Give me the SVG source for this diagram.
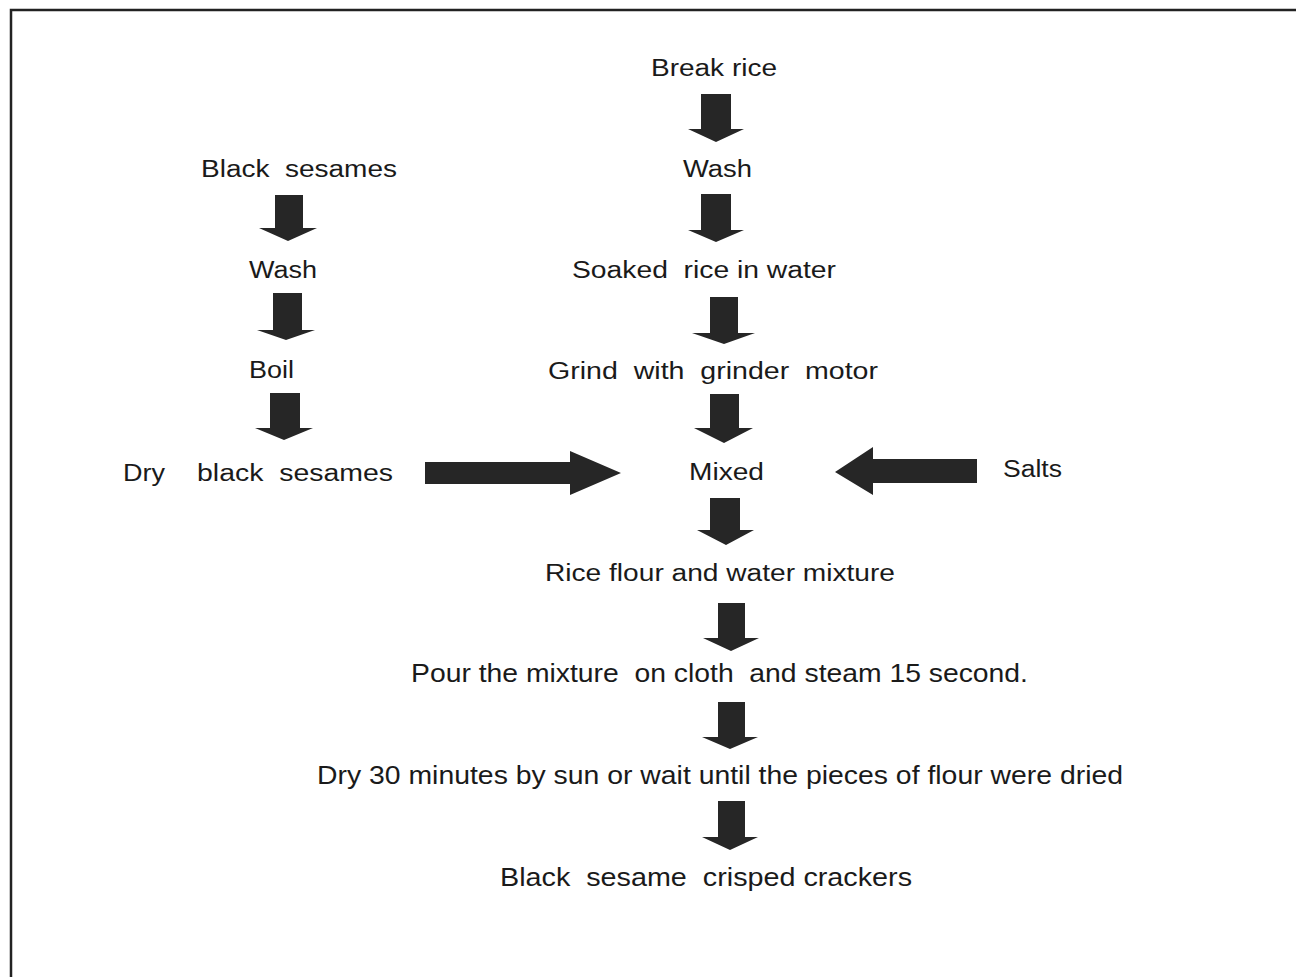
<svg xmlns="http://www.w3.org/2000/svg" width="1296" height="977" viewBox="0 0 1296 977" xml:space="preserve">
<style>
.t{font-family:"Liberation Sans",Arial,sans-serif;font-size:23.5px;fill:#1a1a1a;white-space:pre}
.b{font-size:25px}
.a{fill:#262626}
</style>
<rect width="1296" height="977" fill="#fff"/>
<path d="M11,977 V10 H1296" fill="none" stroke="#222" stroke-width="2.5"/>
<g id="connectors">
<polygon class="a" points="275,195 303,195 303,228 317,228 288,241 259,228 275,228"/>
<polygon class="a" points="273,293 302,293 302,330 315,330 286,340 257,330 273,330"/>
<polygon class="a" points="270,393 300,393 300,428 313,428 284,440 255,428 270,428"/>
<polygon class="a" points="701,94 731,94 731,129 744,129 716,142 688,129 701,129"/>
<polygon class="a" points="701,194 731,194 731,230 744,230 716,242 688,230 701,230"/>
<polygon class="a" points="710,297 738,297 738,333 755,333 724,344 692,333 710,333"/>
<polygon class="a" points="710,394 739,394 739,428 753,428 724,443 694,428 710,428"/>
<polygon class="a" points="710,498 740,498 740,530 754,530 726,545 697,530 710,530"/>
<polygon class="a" points="718,603 745,603 745,638 759,638 731,651 703,638 718,638"/>
<polygon class="a" points="718,702 745,702 745,737 758,737 730,749 702,737 718,737"/>
<polygon class="a" points="718,801 745,801 745,837 758,837 730,850 702,837 718,837"/>
<polygon class="a" points="425,462 570,462 570,451 621,473 570,495 570,484 425,484"/>
<polygon class="a" points="977,459 873,459 873,447 835,472 873,495 873,483 977,483"/>
</g>
<g id="n-break-rice"><text class="t" x="651" y="76" textLength="126" lengthAdjust="spacingAndGlyphs">Break rice</text></g>
<g id="n-wash-rice"><text class="t" x="683" y="177" textLength="69" lengthAdjust="spacingAndGlyphs">Wash</text></g>
<g id="n-soaked"><text class="t" x="572" y="278" textLength="264" lengthAdjust="spacingAndGlyphs">Soaked  rice in water</text></g>
<g id="n-grind"><text class="t" x="548" y="379" textLength="330" lengthAdjust="spacingAndGlyphs">Grind  with  grinder  motor</text></g>
<g id="n-mixed"><text class="t" x="689" y="480" textLength="75" lengthAdjust="spacingAndGlyphs">Mixed</text></g>
<g id="n-salts"><text class="t" x="1003" y="477" textLength="59" lengthAdjust="spacingAndGlyphs">Salts</text></g>
<g id="n-black-sesames"><text class="t" x="201" y="177" textLength="196" lengthAdjust="spacingAndGlyphs">Black  sesames</text></g>
<g id="n-wash-sesame"><text class="t" x="249" y="278" textLength="68" lengthAdjust="spacingAndGlyphs">Wash</text></g>
<g id="n-boil"><text class="t" x="249" y="378" textLength="45" lengthAdjust="spacingAndGlyphs">Boil</text></g>
<g id="n-dry-sesames"><text class="t" x="123" y="481" textLength="42" lengthAdjust="spacingAndGlyphs">Dry</text><text class="t" x="197" y="481" textLength="196" lengthAdjust="spacingAndGlyphs">black  sesames</text></g>
<g id="n-rice-flour"><text class="t" x="545" y="581" textLength="350" lengthAdjust="spacingAndGlyphs">Rice flour and water mixture</text></g>
<g id="n-pour"><text class="t b" x="411" y="682" textLength="617" lengthAdjust="spacingAndGlyphs">Pour the mixture  on cloth  and steam 15 second.</text></g>
<g id="n-dry-sun"><text class="t b" x="317" y="784" textLength="806" lengthAdjust="spacingAndGlyphs">Dry 30 minutes by sun or wait until the pieces of flour were dried</text></g>
<g id="n-crackers"><text class="t b" x="500" y="886" textLength="412" lengthAdjust="spacingAndGlyphs">Black  sesame  crisped crackers</text></g>
</svg>
